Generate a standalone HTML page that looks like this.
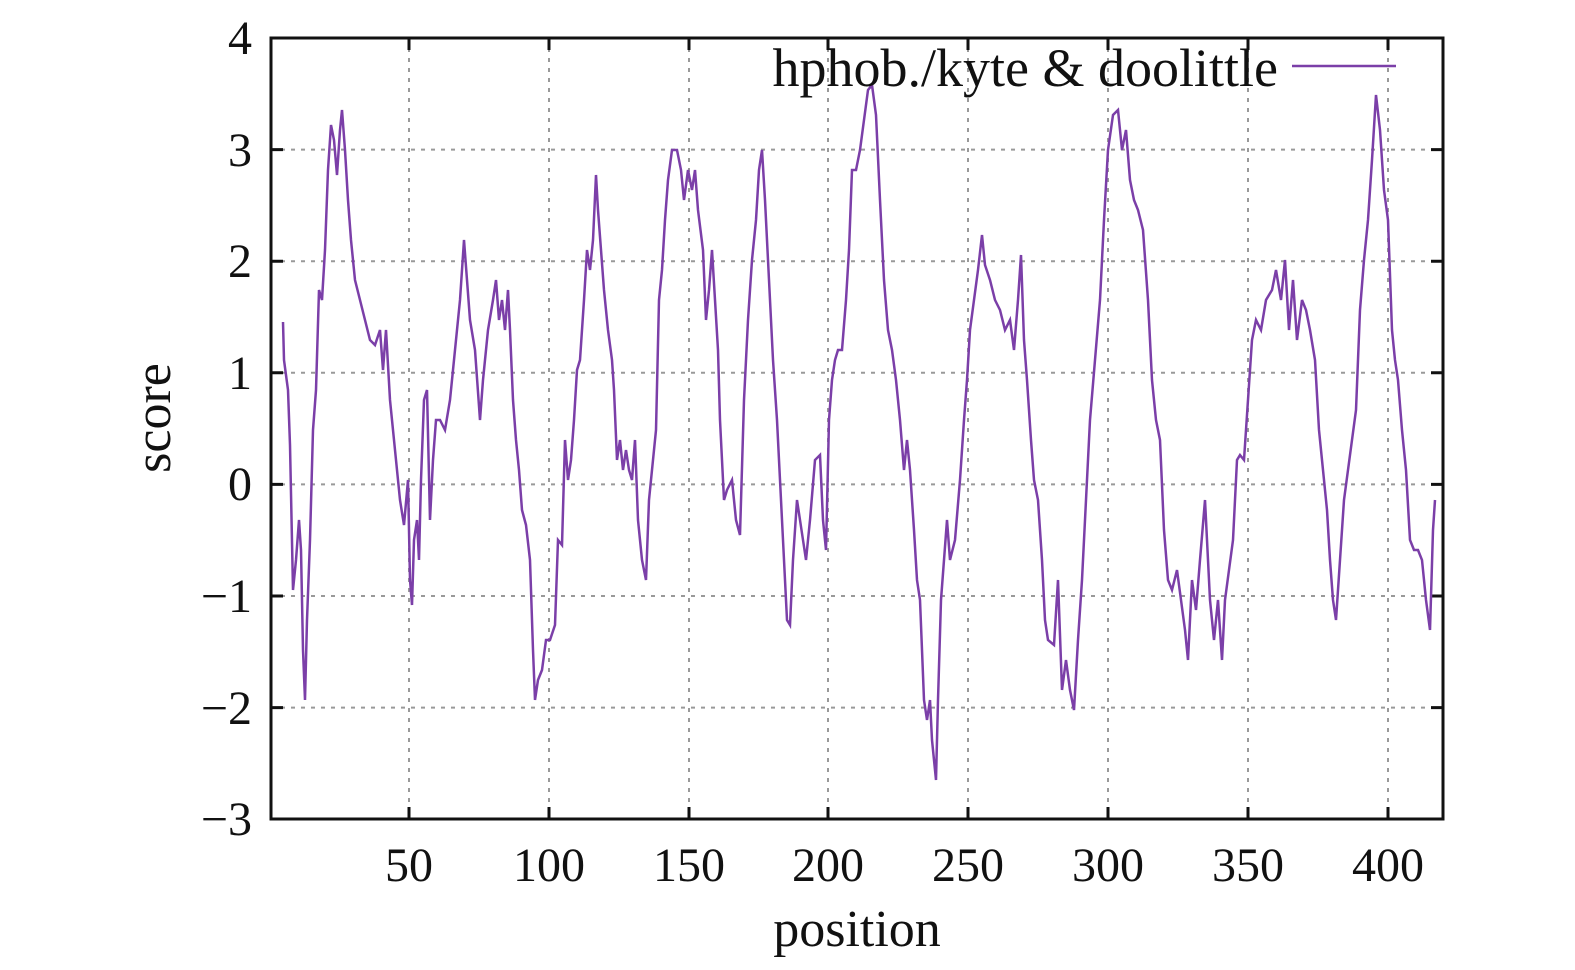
<!DOCTYPE html>
<html><head><meta charset="utf-8"><style>body{margin:0;background:#fff}svg{display:block}</style></head><body>
<svg width="1575" height="970" xmlns="http://www.w3.org/2000/svg" font-family="Liberation Serif, serif" fill="#111">
<g stroke="#999" stroke-width="2" stroke-dasharray="4,6">
<line x1="271" x2="1443" y1="149.6" y2="149.6"/><line x1="271" x2="1443" y1="261.2" y2="261.2"/><line x1="271" x2="1443" y1="372.8" y2="372.8"/><line x1="271" x2="1443" y1="484.4" y2="484.4"/><line x1="271" x2="1443" y1="596" y2="596"/><line x1="271" x2="1443" y1="707.6" y2="707.6"/>
<line y1="38" y2="819" x1="409" x2="409"/><line y1="38" y2="819" x1="549" x2="549"/><line y1="38" y2="819" x1="689" x2="689"/><line y1="38" y2="819" x1="828" x2="828"/><line y1="38" y2="819" x1="968" x2="968"/><line y1="38" y2="819" x1="1108" x2="1108"/><line y1="38" y2="819" x1="1248" x2="1248"/><line y1="38" y2="819" x1="1388" x2="1388"/>
</g>
<g stroke="#111" stroke-width="3">
<path d="M271 149.6h12M271 261.2h12M271 372.8h12M271 484.4h12M271 596h12M271 707.6h12M1443 149.6h-12M1443 261.2h-12M1443 372.8h-12M1443 484.4h-12M1443 596h-12M1443 707.6h-12"/>
<path d="M409 819v-12M549 819v-12M689 819v-12M828 819v-12M968 819v-12M1108 819v-12M1248 819v-12M1388 819v-12M409 38v12M549 38v12M689 38v12M828 38v12M968 38v12M1108 38v12M1248 38v12M1388 38v12"/>
<rect x="271" y="38" width="1172" height="781" fill="none"/>
</g>
<polyline fill="none" stroke="#7b3fa8" stroke-width="2.5" stroke-linejoin="miter" points="283,322 284,360 288,390 290,445 293,590 296,560 299,520 301,550 303,650 305,700 307,620 310,540 313,430 316,390 319,290 322,300 325,250 328,170 331,125 334,140 337,175 340,130 342,110 345,150 348,200 351,240 355,280 360,300 365,320 370,340 375,345 380,330 383,370 386,330 390,400 393,430 396,460 400,500 404,525 408,480 410,580 412,605 414,540 417,520 419,560 421,480 424,400 427,390 430,520 433,460 436,420 440,420 445,430 450,400 455,350 460,300 464,240 467,280 470,320 475,350 480,420 483,380 488,330 493,300 496,280 499,320 502,300 505,330 508,290 510,330 513,400 516,440 519,470 522,510 526,525 530,560 533,650 535,700 538,680 542,670 546,640 550,640 555,625 558,540 562,545 565,440 568,480 571,460 574,420 577,370 580,360 584,300 587,250 590,270 593,240 596,175 598,210 601,250 604,290 608,330 612,360 614,390 617,460 620,440 623,470 626,450 629,470 632,480 635,440 638,520 642,560 646,580 649,500 652,470 656,430 659,300 662,270 665,220 668,180 672,150 677,150 681,170 684,200 688,170 692,190 695,170 698,210 703,250 706,320 709,290 712,250 715,300 718,350 720,420 724,500 727,490 732,480 736,520 740,535 744,400 748,320 752,260 756,220 759,170 762,150 765,200 768,260 770,300 773,360 777,420 780,480 783,540 787,620 790,625 793,560 797,500 800,520 803,540 806,560 810,520 815,460 820,455 823,520 826,550 829,420 832,380 835,360 838,350 842,350 846,300 849,250 852,170 856,170 860,150 864,120 868,90 872,85 876,115 880,200 884,280 888,330 892,350 896,380 900,420 904,470 907,440 910,470 914,530 917,580 920,600 924,700 927,720 930,700 932,740 936,780 938,700 941,600 944,560 947,520 950,560 955,540 960,480 964,420 967,380 970,330 974,300 978,270 982,235 985,265 990,280 995,300 1000,310 1005,330 1010,320 1014,350 1018,300 1021,255 1024,340 1027,380 1031,440 1034,480 1038,500 1042,560 1045,620 1048,640 1054,645 1058,580 1062,690 1066,660 1070,690 1074,710 1078,640 1082,580 1086,500 1090,420 1095,360 1100,300 1104,220 1108,150 1113,115 1118,110 1122,150 1126,130 1130,180 1134,200 1138,210 1143,230 1148,300 1152,380 1156,420 1160,440 1164,530 1168,580 1172,590 1177,570 1181,600 1185,630 1188,660 1192,580 1196,610 1200,560 1205,500 1210,600 1214,640 1218,600 1222,660 1225,600 1229,570 1233,540 1237,460 1240,455 1244,460 1248,400 1252,340 1256,320 1261,330 1266,300 1272,290 1276,270 1281,300 1285,260 1289,330 1293,280 1297,340 1302,300 1306,310 1310,330 1315,360 1319,430 1323,470 1327,510 1330,560 1333,600 1336,620 1340,560 1344,500 1348,470 1352,440 1356,410 1360,310 1364,260 1368,220 1372,160 1376,95 1380,130 1384,190 1388,220 1392,330 1395,360 1398,380 1402,430 1406,470 1410,540 1414,550 1418,550 1422,560 1426,600 1430,630 1433,530 1435,500"/>
<line x1="1292" x2="1396" y1="66" y2="66" stroke="#7b3fa8" stroke-width="2.5"/>
<text x="1278" y="86" font-size="54" text-anchor="end">hphob./kyte &amp; doolittle</text>
<g font-size="48" text-anchor="end">
<text x="252" y="54">4</text><text x="252" y="166">3</text><text x="252" y="277">2</text><text x="252" y="389">1</text><text x="252" y="500">0</text><text x="252" y="612">−1</text><text x="252" y="724">−2</text><text x="252" y="835">−3</text>
</g>
<g font-size="48" text-anchor="middle">
<text x="409" y="881">50</text><text x="549" y="881">100</text><text x="689" y="881">150</text><text x="828" y="881">200</text><text x="968" y="881">250</text><text x="1108" y="881">300</text><text x="1248" y="881">350</text><text x="1388" y="881">400</text>
<text x="857" y="946" font-size="52">position</text>
<text transform="translate(170,418) rotate(-90)" font-size="52">score</text>
</g>
</svg>
</body></html>
